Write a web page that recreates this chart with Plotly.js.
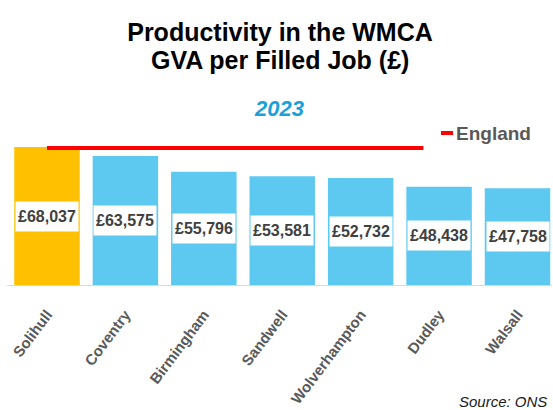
<!DOCTYPE html>
<html>
<head>
<meta charset="utf-8">
<script src="https://cdn.plot.ly/plotly-3.0.1.min.js"></script>
<style>html,body{margin:0;padding:0;background:#fff;}#chart{width:553px;height:410px;}</style>
</head>
<body>
<div id="chart"></div>
<script>
// ---- data ----
var categories = ["Solihull", "Coventry", "Birmingham", "Sandwell", "Wolverhampton", "Dudley", "Walsall"];
var gvaValues = [68037, 63575, 55796, 53581, 52732, 48438, 47758];
var englandValue = [67540, 67540];
var englandSpan = [0, 4.8];   // category-index extent of the England reference line
var titleLine1 = "Productivity in the WMCA";
var titleLine2 = "GVA per Filled Job (£)";
var yearLabel = "2023";
var legendLabel = "England";
var sourceLabel = "Source: ONS";

// ---- layout helpers ----
var W = 553, H = 410, M = {l: 7, r: 1, t: 120, b: 125};
var plotW = W - M.l - M.r, plotH = H - M.t - M.b;
function px(x) { return (x - M.l) / plotW; }
function py(y) { return (H - M.b - y) / plotH; }

var idx = categories.map(function (_, i) { return i; });
var barColors = categories.map(function (c, i) { return i === 0 ? "#FFC000" : "#5DC9F1"; });
var fmt = function (v) { return "£" + v.toLocaleString("en-GB"); };

var sans = "Liberation Sans, Arial, sans-serif";

var traces = [
  {
    type: "bar",
    x: idx,
    y: gvaValues,
    width: 0.835,
    marker: {color: barColors, line: {width: 0}},
    hoverinfo: "skip",
    showlegend: false
  },
  {
    type: "scatter",
    mode: "lines",
    name: legendLabel,
    x: englandSpan,
    y: englandValue,
    line: {color: "#FF0000", width: 4},
    hoverinfo: "skip",
    showlegend: false
  }
];

var annotations = gvaValues.map(function (v, i) {
  return {
    x: i, y: v / 2, xref: "x", yref: "y",
    text: fmt(v), showarrow: false,
    font: {family: sans, size: 16, color: "#404040", weight: 700},
    bgcolor: "#FFFFFF", borderpad: 2, width: 58, height: 25,
    xanchor: "center", yanchor: "middle"
  };
});

annotations.push({
  x: px(280), y: py(60), xref: "paper", yref: "paper",
  text: titleLine2, showarrow: false,
  font: {family: sans, size: 25, color: "#000000", weight: 700},
  xanchor: "center", yanchor: "middle"
});
annotations.push({
  x: px(279), y: py(108), xref: "paper", yref: "paper",
  text: "<i>" + yearLabel + "</i>", showarrow: false,
  font: {family: sans, size: 22, color: "#1BA1DA", weight: 700},
  xanchor: "center", yanchor: "middle"
});
annotations.push({
  x: px(454), y: py(133), xref: "paper", yref: "paper",
  text: legendLabel, showarrow: false,
  font: {family: sans, size: 19, color: "#595959", weight: 700},
  xanchor: "left", yanchor: "middle"
});
annotations.push({
  x: px(549), y: py(401), xref: "paper", yref: "paper",
  text: "<i>" + sourceLabel + "</i>", showarrow: false,
  font: {family: sans, size: 15, color: "#1A1A1A"},
  xanchor: "right", yanchor: "middle"
});

var layout = {
  width: W, height: H,
  margin: {l: M.l, r: M.r, t: M.t, b: M.b, pad: 0},
  paper_bgcolor: "#FFFFFF", plot_bgcolor: "#FFFFFF",
  title: {
    text: titleLine1,
    font: {family: sans, size: 25, color: "#000000", weight: 700},
    x: 280 / W, xanchor: "center", xref: "container",
    y: 1 - 32 / H, yanchor: "middle", yref: "container"
  },
  showlegend: false,
  xaxis: {
    type: "linear",
    range: [-0.51, 6.44],
    tickmode: "array", tickvals: idx, ticktext: categories,
    tickangle: -53,
    ticklabelstandoff: 14,
    tickfont: {family: sans, size: 15, color: "#595959", weight: 700},
    showline: true, linecolor: "#D9D9D9", linewidth: 1,
    showgrid: false, zeroline: false, ticks: "",
    fixedrange: true
  },
  yaxis: {
    range: [0, 81348],
    visible: false, showgrid: false, zeroline: false,
    fixedrange: true
  },
  shapes: [
    // legend key for the England line
    {type: "line", xref: "paper", yref: "paper",
     x0: px(441), x1: px(453), y0: py(133), y1: py(133),
     line: {color: "#FF0000", width: 4}}
  ],
  annotations: annotations
};

Plotly.newPlot("chart", traces, layout, {displayModeBar: false, staticPlot: true});
</script>
</body>
</html>
